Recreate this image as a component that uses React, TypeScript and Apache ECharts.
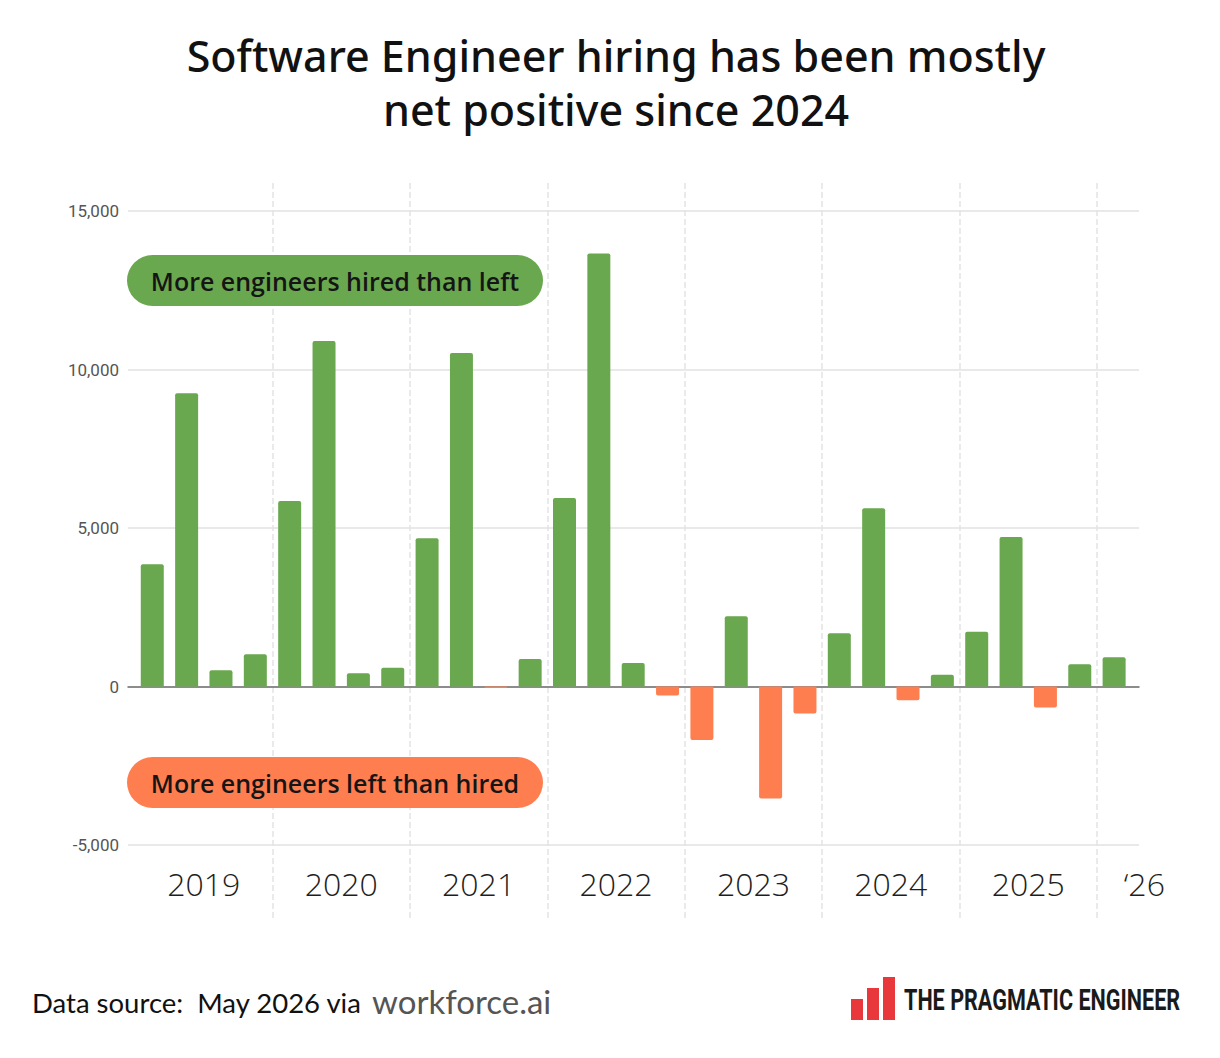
import React, { useEffect, useRef } from "react";
import * as echarts from "echarts";

const quarters = [
  "2019 Q1", "2019 Q2", "2019 Q3", "2019 Q4",
  "2020 Q1", "2020 Q2", "2020 Q3", "2020 Q4",
  "2021 Q1", "2021 Q2", "2021 Q3", "2021 Q4",
  "2022 Q1", "2022 Q2", "2022 Q3", "2022 Q4",
  "2023 Q1", "2023 Q2", "2023 Q3", "2023 Q4",
  "2024 Q1", "2024 Q2", "2024 Q3", "2024 Q4",
  "2025 Q1", "2025 Q2", "2025 Q3", "2025 Q4",
  "2026 Q1",
];
const netHires = [
  3860, 9250, 510, 1020,
  5850, 10900, 420, 590,
  4680, 10520, -50, 870,
  5950, 13660, 740, -280,
  -1690, 2220, -3530, -850,
  1680, 5620, -430, 370,
  1730, 4720, -660, 700,
  920,
];
const yearLabels = ["2019", "2020", "2021", "2022", "2023", "2024", "2025", "\u201826"];
const yearLabelSlots = [2, 6, 10, 14, 18, 22, 26, 29];
const yMin = -5000;
const yMax = 15000;
const yStep = 5000;

const GREEN = "#6aa84f";
const ORANGE = "#ff7e50";

export default function App() {
  const ref = useRef<HTMLDivElement>(null);
  useEffect(() => {
    document.body.style.margin = "0";
    const chart = echarts.init(ref.current!, null, { renderer: "svg" });
    const boundaries = Array.from({ length: quarters.length + 1 }, (_, i) => String(i));
    const labelAt = boundaries.map((_, i) => {
      const k = yearLabelSlots.indexOf(i);
      return k >= 0 ? yearLabels[k] : "";
    });
    const slotLeft = 135.1;
    const slotWidth = 996.2;

    chart.setOption({
      animation: false,
      backgroundColor: "#ffffff",
      grid: [
        { left: slotLeft, top: 211, width: slotWidth, height: 634 },
        { left: 128, top: 211, width: 1011, height: 634 },
        { left: slotLeft, top: 183, width: slotWidth, height: 737 },
      ],
      xAxis: [
        {
          gridIndex: 0,
          type: "category",
          data: quarters,
          position: "bottom",
          axisLine: { show: false, onZero: false },
          axisTick: { show: false },
          axisLabel: { show: false },
          splitLine: { show: false },
        },
        {
          gridIndex: 0,
          type: "category",
          boundaryGap: false,
          data: labelAt,
          position: "bottom",
          axisLine: { show: false, onZero: false },
          axisTick: { show: false },
          splitLine: { show: false },
          axisLabel: {
            interval: 0,
            margin: 22,
            fontSize: 32,
            fontWeight: 300,
            fontFamily: "'Open Sans', sans-serif",
            color: "#1e1e1e",
            formatter: (v: string) => (v.startsWith("\u2018") ? "{s|" + v + "}" : v),
            rich: {
              s: {
                fontSize: 32,
                fontWeight: 300,
                fontFamily: "'Open Sans', sans-serif",
                color: "#1e1e1e",
                padding: [0, 0, 0, 26],
              },
            },
          },
        },
        {
          gridIndex: 1,
          type: "value",
          min: 0,
          max: 1,
          axisLine: { show: true, onZero: true, lineStyle: { color: "#6d6d6d", width: 1.5 } },
          axisTick: { show: false },
          axisLabel: { show: false },
          splitLine: { show: false },
        },
        {
          gridIndex: 2,
          type: "category",
          boundaryGap: false,
          data: boundaries,
          axisLine: { show: false, onZero: false },
          axisTick: { show: false },
          axisLabel: { show: false },
          splitLine: {
            show: true,
            interval: (i: number) => i % 4 === 0 && i > 0 && i < quarters.length,
            lineStyle: { color: "#e4e4e4", type: "dashed", width: 1.5 },
          },
        },
      ],
      yAxis: [
        { gridIndex: 0, type: "value", min: yMin, max: yMax, interval: yStep, show: false },
        {
          gridIndex: 1,
          type: "value",
          min: yMin,
          max: yMax,
          interval: yStep,
          axisLine: { show: false },
          axisTick: { show: false },
          axisLabel: {
            margin: 9,
            fontSize: 17,
            fontFamily: "Roboto, sans-serif",
            color: "#555",
            formatter: (v: number) => v.toLocaleString("en-US"),
          },
          splitLine: { lineStyle: { color: "#e2e2e2", width: 1.5 } },
        },
        { gridIndex: 2, type: "value", min: 0, max: 1, show: false },
      ],
      series: [
        {
          type: "bar",
          xAxisIndex: 0,
          yAxisIndex: 0,
          barWidth: 23,
          data: netHires.map((v) => ({
            value: v,
            itemStyle: {
              color: v >= 0 ? GREEN : ORANGE,
              borderRadius: v >= 0 ? [2, 2, 0, 0] : [0, 0, 2, 2],
            },
          })),
        },
      ],
      graphic: [
        {
          type: "text",
          x: 616,
          y: 28,
          z: 100,
          style: {
            text: "Software Engineer hiring has been mostly\nnet positive since 2024",
            font: "500 43px 'Noto Sans', sans-serif",
            fill: "#111",
            textAlign: "center",
            textVerticalAlign: "top",
            lineHeight: 54,
          },
        },
        {
          type: "rect",
          z: 100,
          shape: { x: 127, y: 255, width: 416, height: 51, r: 25.5 },
          style: { fill: GREEN },
        },
        {
          type: "text",
          x: 335,
          y: 281,
          z: 101,
          style: {
            text: "More engineers hired than left",
            font: "600 25px 'Open Sans', sans-serif",
            fill: "#151515",
            textAlign: "center",
            textVerticalAlign: "middle",
          },
        },
        {
          type: "rect",
          z: 100,
          shape: { x: 127, y: 757, width: 416, height: 51, r: 25.5 },
          style: { fill: ORANGE },
        },
        {
          type: "text",
          x: 335,
          y: 783,
          z: 101,
          style: {
            text: "More engineers left than hired",
            font: "600 25px 'Open Sans', sans-serif",
            fill: "#151515",
            textAlign: "center",
            textVerticalAlign: "middle",
          },
        },
        {
          type: "text",
          x: 32,
          y: 1002,
          z: 100,
          style: {
            text: "Data source:  May 2026 via",
            font: "400 27.5px Lato, sans-serif",
            fill: "#111",
            textAlign: "left",
            textVerticalAlign: "middle",
          },
        },
        {
          type: "text",
          x: 372,
          y: 1001,
          z: 100,
          style: {
            text: "workforce.ai",
            font: "400 33px Lato, sans-serif",
            fill: "#555",
            textAlign: "left",
            textVerticalAlign: "middle",
          },
        },
        { type: "rect", z: 100, shape: { x: 851, y: 999, width: 12, height: 21 }, style: { fill: "#e8383c" } },
        { type: "rect", z: 100, shape: { x: 867, y: 988, width: 12, height: 32 }, style: { fill: "#e8383c" } },
        { type: "rect", z: 100, shape: { x: 883, y: 977, width: 12, height: 43 }, style: { fill: "#e8383c" } },
        {
          type: "text",
          x: 904,
          y: 1000,
          z: 100,
          scaleX: 0.72,
          originX: 0,
          originY: 0,
          style: {
            x: 0,
            y: 0,
            text: "THE PRAGMATIC ENGINEER",
            font: "700 30px Roboto, sans-serif",
            fill: "#1a1a1a",
            textAlign: "left",
            textVerticalAlign: "middle",
          },
        },
      ],
    });
    return () => chart.dispose();
  }, []);
  return <div ref={ref} style={{ width: 1220, height: 1058 }} />;
}
